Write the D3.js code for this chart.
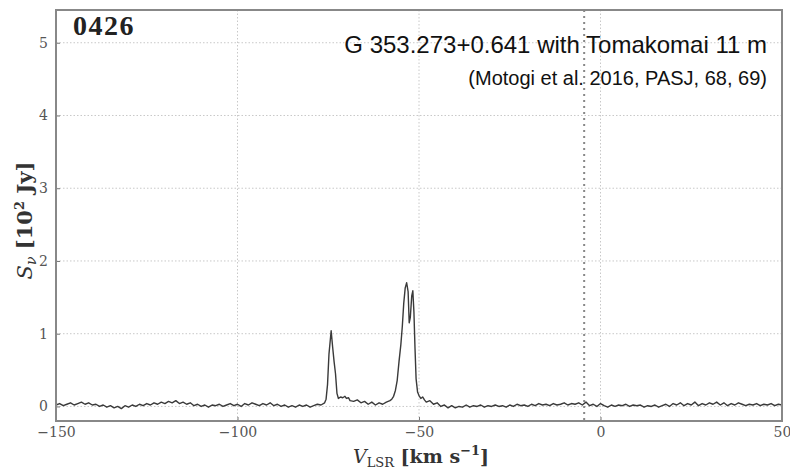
<!DOCTYPE html>
<html>
<head>
<meta charset="utf-8">
<script src="https://cdn.jsdelivr.net/npm/d3@7"></script>
<style>
  body { margin: 0; background: #fff; }
  svg { display: block; }
</style>
</head>
<body>
<svg></svg>
<script>
const width = 790, height = 473;
const margin = {top: 10, right: 8, bottom: 52, left: 56};

// axis ticks
const xTicks = [-150, -100, -50, 0, 50];
const yTicks = [0, 1, 2, 3, 4, 5];
const markerVelocity = -4.5;

const panelLabel = "0426";
const sourceLines = ["G 353.273+0.641 with Tomakomai 11 m", "(Motogi et al. 2016, PASJ, 68, 69)"];

// spectrum: [velocity km/s, flux 10^2 Jy]
const spectrum = [
  [-150, 0.02], [-149, 0.04], [-148, 0.01], [-147, 0.03], [-146, 0.05], [-145, 0.02],
  [-144, 0.04], [-143, 0.06], [-142, 0.03], [-141, 0.05], [-140, 0.02], [-139, 0.03],
  [-138, 0.00], [-137, 0.02], [-136, -0.01], [-135, 0.01], [-134, -0.02], [-133, 0.00],
  [-132, -0.03], [-131, 0.01], [-130, -0.01], [-129, 0.02], [-128, 0.00], [-127, 0.03],
  [-126, 0.01], [-125, 0.04], [-124, 0.02], [-123, 0.05], [-122, 0.03], [-121, 0.06],
  [-120, 0.04], [-119, 0.07], [-118, 0.05], [-117, 0.08], [-116, 0.04], [-115, 0.06],
  [-114, 0.03], [-113, 0.05], [-112, 0.01], [-111, 0.03], [-110, 0.00], [-109, 0.02],
  [-108, -0.01], [-107, 0.02], [-106, 0.01], [-105, 0.03], [-104, 0.00], [-103, 0.02],
  [-102, 0.04], [-101, 0.01], [-100, 0.03], [-99, 0.00], [-98, 0.04], [-97, 0.02],
  [-96, 0.05], [-95, 0.03], [-94, 0.01], [-93, 0.04], [-92, 0.02], [-91, 0.05],
  [-90, 0.01], [-89, 0.03], [-88, 0.00], [-87, 0.02], [-86, -0.01], [-85, 0.01],
  [-84, -0.01], [-83, 0.02], [-82, 0.00], [-81, 0.02], [-80, -0.01], [-79, 0.01],
  [-78, 0.03], [-77, 0.02], [-76, 0.05],
  [-75.6, 0.10], [-75.2, 0.30], [-74.8, 0.72], [-74.2, 1.04], [-73.8, 0.82], [-73.4, 0.62],
  [-73.0, 0.45], [-72.6, 0.18], [-72.2, 0.11], [-71.6, 0.13], [-71, 0.12], [-70.4, 0.14],
  [-70, 0.11], [-69.4, 0.12], [-69, 0.08], [-68, 0.07], [-67, 0.09], [-66, 0.05],
  [-65, 0.07], [-64, 0.03], [-63, 0.06], [-62, 0.02], [-61, 0.05], [-60, 0.03],
  [-59, 0.06], [-58, 0.08], [-57.5, 0.10], [-57, 0.14], [-56.5, 0.22], [-56, 0.36],
  [-55.5, 0.62], [-55.0, 0.85], [-54.6, 1.10], [-54.2, 1.42], [-53.8, 1.63], [-53.4, 1.70],
  [-53.0, 1.58], [-52.7, 1.15], [-52.4, 1.22], [-52.0, 1.52], [-51.7, 1.59], [-51.4, 1.30],
  [-51.1, 0.80], [-50.8, 0.38], [-50.4, 0.20], [-50, 0.15], [-49.5, 0.11], [-49, 0.13],
  [-48.5, 0.09], [-48, 0.06], [-47, 0.08], [-46, 0.03], [-45, 0.05], [-44, 0.00],
  [-43, 0.02], [-42, -0.02], [-41, 0.01], [-40, -0.02], [-39, 0.00], [-38, -0.01],
  [-37, 0.02], [-36, -0.01], [-35, 0.01], [-34, 0.00], [-33, 0.02], [-32, -0.01],
  [-31, 0.01], [-30, 0.00], [-29, 0.02], [-28, 0.00], [-27, 0.01], [-26, -0.01],
  [-25, 0.02], [-24, 0.00], [-23, 0.03], [-22, 0.01], [-21, 0.02], [-20, 0.00],
  [-19, 0.03], [-18, 0.01], [-17, 0.04], [-16, 0.02], [-15, 0.03], [-14, 0.01],
  [-13, 0.04], [-12, 0.02], [-11, 0.03], [-10, 0.05], [-9, 0.02], [-8, 0.04],
  [-7, 0.03], [-6, 0.05], [-5, 0.02], [-4, 0.06], [-3, 0.01], [-2, 0.03],
  [-1, 0.00], [0, 0.04], [1, 0.01], [2, -0.01], [3, 0.02], [4, 0.00],
  [5, 0.02], [6, 0.01], [7, 0.03], [8, 0.00], [9, 0.02], [10, 0.01],
  [11, 0.02], [12, -0.01], [13, 0.01], [14, 0.00], [15, 0.02], [16, -0.01],
  [17, 0.01], [18, 0.03], [19, 0.00], [20, 0.04], [21, 0.02], [22, 0.05],
  [23, 0.01], [24, 0.04], [25, 0.02], [26, 0.06], [27, 0.01], [28, 0.04],
  [29, 0.02], [30, 0.05], [31, 0.03], [32, 0.06], [33, 0.02], [34, 0.05],
  [35, 0.01], [36, 0.04], [37, 0.02], [38, 0.05], [39, 0.03], [40, 0.01],
  [41, 0.03], [42, 0.02], [43, 0.04], [44, 0.01], [45, 0.03], [46, 0.02],
  [47, 0.04], [48, 0.01], [49, 0.03], [50, 0.02]
];

const svg = d3.select("svg")
    .attr("width", width)
    .attr("height", height);

const x = d3.scaleLinear().domain([-150, 50]).range([margin.left, width - margin.right]);
const y = d3.scaleLinear().domain([-0.2, 5.45]).range([height - margin.bottom, margin.top]);

// grid
const grid = svg.append("g")
    .attr("stroke", "#c8c8c8")
    .attr("stroke-width", 1)
    .attr("stroke-dasharray", "1.5,2");
grid.selectAll("line.gx")
    .data(xTicks)
    .join("line")
    .attr("x1", d => x(d)).attr("x2", d => x(d))
    .attr("y1", margin.top).attr("y2", height - margin.bottom);
grid.selectAll("line.gy")
    .data(yTicks)
    .join("line")
    .attr("class", "gy")
    .attr("x1", margin.left).attr("x2", width - margin.right)
    .attr("y1", d => y(d)).attr("y2", d => y(d));

// marker line
svg.append("line")
    .attr("x1", x(markerVelocity)).attr("x2", x(markerVelocity))
    .attr("y1", margin.top).attr("y2", height - margin.bottom)
    .attr("stroke", "#888")
    .attr("stroke-width", 2)
    .attr("stroke-dasharray", "2,4");

// spectrum
const line = d3.line()
    .x(d => x(d[0]))
    .y(d => y(d[1]));

svg.append("path")
    .datum(spectrum)
    .attr("fill", "none")
    .attr("stroke", "#3a3a3a")
    .attr("stroke-width", 1.4)
    .attr("stroke-linejoin", "round")
    .attr("d", line);

// axes
const xAxis = svg.append("g")
    .attr("transform", `translate(0,${height - margin.bottom})`)
    .call(d3.axisBottom(x).tickValues(xTicks).tickSizeInner(-4).tickSizeOuter(0).tickPadding(6));
const yAxis = svg.append("g")
    .attr("transform", `translate(${margin.left},0)`)
    .call(d3.axisLeft(y).tickValues(yTicks).tickFormat(d3.format("d"))
        .tickSizeInner(-4).tickSizeOuter(0).tickPadding(8));

[xAxis, yAxis].forEach(g => {
    g.select(".domain").remove();
    g.selectAll(".tick line").attr("stroke", "#777");
    g.selectAll("text")
        .attr("fill", "#555")
        .style("font-family", "'DejaVu Serif', serif")
        .style("font-size", "14px");
});

// frame
svg.append("rect")
    .attr("x", margin.left).attr("y", margin.top)
    .attr("width", width - margin.left - margin.right)
    .attr("height", height - margin.top - margin.bottom)
    .attr("fill", "none")
    .attr("stroke", "#888")
    .attr("stroke-width", 2);

// panel label
svg.append("text")
    .attr("x", 73).attr("y", 35)
    .style("font-family", "'Liberation Serif', serif")
    .style("font-weight", "bold")
    .style("font-size", "28px")
    .style("letter-spacing", "1.5px")
    .attr("fill", "#222")
    .text(panelLabel);

// source annotation
svg.append("g")
    .selectAll("text")
    .data(sourceLines)
    .join("text")
    .attr("x", 767)
    .attr("y", (d, i) => i === 0 ? 53 : 85)
    .attr("text-anchor", "end")
    .style("font-family", "'Liberation Sans', Arial, sans-serif")
    .style("font-size", (d, i) => i === 0 ? "24px" : "20px")
    .attr("fill", "#111")
    .text(d => d);

// axis labels
const yLabel = svg.append("text")
    .attr("transform", `translate(32,${(margin.top + height - margin.bottom) / 2 + 5}) rotate(-90)`)
    .attr("text-anchor", "middle")
    .style("font-family", "'DejaVu Serif', serif")
    .style("font-size", "21px")
    .style("font-weight", "bold")
    .attr("fill", "#333");
yLabel.append("tspan").style("font-style", "italic").style("font-weight", "normal").text("S");
yLabel.append("tspan").attr("dy", 4).style("font-size", "14px").style("font-style", "italic").style("font-weight", "normal").text("ν");
yLabel.append("tspan").attr("dy", -4).text(" [10");
yLabel.append("tspan").attr("dy", -8).style("font-size", "13px").text("2");
yLabel.append("tspan").attr("dy", 8).text(" Jy]");

const xLabel = svg.append("text")
    .attr("x", (margin.left + width - margin.right) / 2 + 2)
    .attr("y", 463)
    .attr("text-anchor", "middle")
    .style("font-family", "'DejaVu Serif', serif")
    .style("font-size", "19px")
    .style("font-weight", "bold")
    .attr("fill", "#333");
xLabel.append("tspan").style("font-style", "italic").style("font-weight", "normal").text("V");
xLabel.append("tspan").attr("dy", 4).style("font-size", "13px").style("font-weight", "normal").text("LSR");
xLabel.append("tspan").attr("dy", -4).text(" [km s");
xLabel.append("tspan").attr("dy", -8).style("font-size", "13px").text("−1");
xLabel.append("tspan").attr("dy", 8).text("]");
</script>
</body>
</html>
